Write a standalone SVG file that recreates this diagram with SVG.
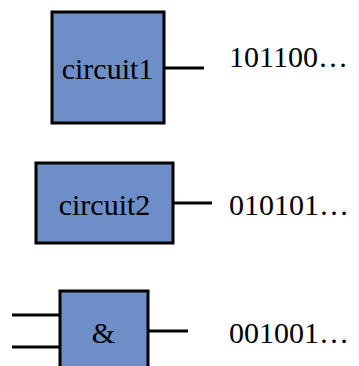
<svg xmlns="http://www.w3.org/2000/svg" width="359" height="366" viewBox="0 0 359 366">
<style>
.box{fill:#6d8ec7;stroke:#000;stroke-width:3}
.ln{stroke:#000;stroke-width:3;fill:none}
.t{font-family:'Liberation Serif','Times New Roman',Times,'DejaVu Serif',serif;font-size:30px;fill:#000}
</style>
<rect width="359" height="366" fill="#fff"/>
<g id="circuit1">
<rect class="box" x="52" y="12" width="112" height="111"/>
<text class="t" x="107.5" y="79" text-anchor="middle">circuit1</text>
</g>
<g id="circuit2">
<rect class="box" x="36" y="163" width="137" height="80"/>
<text class="t" x="104.5" y="215" text-anchor="middle">circuit2</text>
</g>
<g id="and">
<rect class="box" x="60" y="291" width="88" height="90"/>
<text class="t" x="103.5" y="343" text-anchor="middle">&amp;</text>
</g>
<g id="labels">
<text class="t" x="229" y="67">101100…</text>
<text class="t" x="229" y="215">010101…</text>
<text class="t" x="229" y="343">001001…</text>
</g>
<g id="connectors">
<line class="ln" x1="164" y1="68" x2="204" y2="68"/>
<line class="ln" x1="173" y1="203" x2="212" y2="203"/>
<line class="ln" x1="148" y1="331" x2="188" y2="331"/>
<line class="ln" x1="12" y1="315" x2="60" y2="315"/>
<line class="ln" x1="12" y1="347" x2="60" y2="347"/>
</g>
</svg>
